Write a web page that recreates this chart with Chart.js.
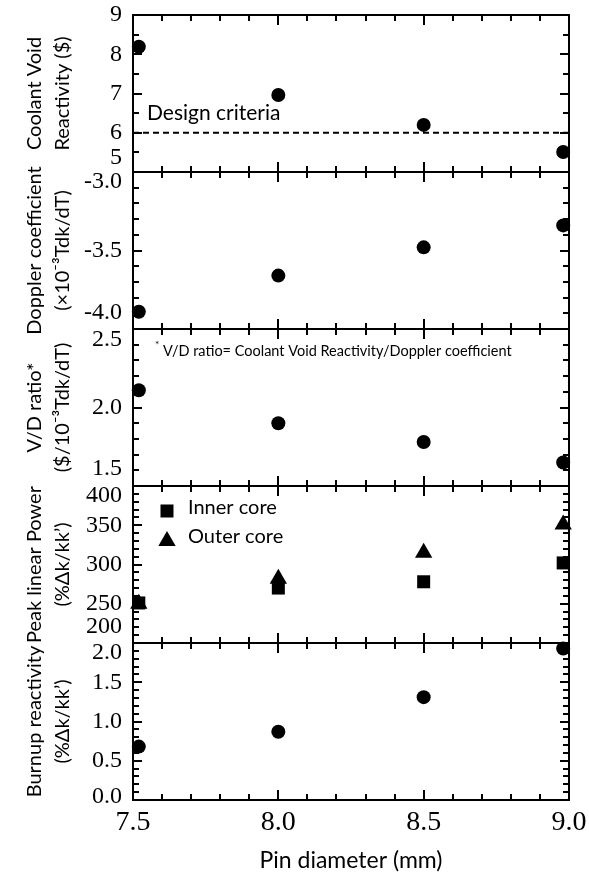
<!DOCTYPE html>
<html>
<head>
<meta charset="utf-8">
<script src="https://cdn.jsdelivr.net/npm/chart.js@4/dist/chart.umd.min.js"></script>
<style>
  html, body { margin: 0; padding: 0; background: #fff; }
  body { width: 589px; height: 875px; overflow: hidden; position: relative; }
  canvas { position: absolute; left: 0; }
</style>
</head>
<body>
<script>
// ---------------- data ----------------
const pinDiameter = [7.52, 8.0, 8.5, 8.98];
const coolantVoid = [8.19, 6.96, 6.20, 5.51];
const designCriteria = 6;
const doppler = [-3.89, -3.66, -3.48, -3.34];
const vdRatio = [2.11, 1.90, 1.78, 1.65];
const peakInner = [251, 270, 278, 302];
const peakOuter = [250, 282, 315, 351];
const burnup = [0.68, 0.87, 1.31, 1.93];

const xTicks = [7.5, 8.0, 8.5, 9.0];
const xTickLabels = ['7.5', '8.0', '8.5', '9.0'];
const coolantTicks = [5, 6, 7, 8, 9];
const coolantTickLabels = ['5', '6', '7', '8', '9'];
const dopplerTicks = [-4.0, -3.5, -3.0];
const dopplerTickLabels = ['-4.0', '-3.5', '-3.0'];
const vdTicks = [1.5, 2.0, 2.5];
const vdTickLabels = ['1.5', '2.0', '2.5'];
const peakTicks = [200, 250, 300, 350, 400];
const peakTickLabels = ['200', '250', '300', '350', '400'];
const burnupTicks = [0, 0.5, 1.0, 1.5, 2.0];
const burnupTickLabels = ['0.0', '0.5', '1.0', '1.5', '2.0'];

const seriesNames = ['Inner core', 'Outer core'];

// ---------------- layout / style ----------------
const W = 589, H = 875;
const PLOT_L = 133, PLOT_R = 569, PANEL_H = 157;
const panelTops = [15, 172, 329, 486, 643];
const M = 30;
const SERIF = '"Liberation Serif", "Times New Roman", serif';
const SANS = 'Lato, "Noto Sans", sans-serif';
const BLACK = '#000';
const X_MINOR = 0.1, X_MAJOR = 0.5;

function pts(ys) { return pinDiameter.map((x, i) => ({ x: x, y: ys[i] })); }

function circleSet(ys) {
  return { data: pts(ys), pointStyle: 'circle', pointRadius: 7, backgroundColor: BLACK,
           borderColor: BLACK, pointBorderWidth: 0, showLine: false, clip: false };
}

const panels = [
  { ticks: coolantTicks, labels: coolantTickLabels, minor: 0.5, major: 1,
    title: ['Coolant Void', 'Reactivity ($)'], shift: [0, 14],
    datasets: [
      circleSet(coolantVoid),
      { type: 'line', data: [{ x: xTicks[0], y: designCriteria }, { x: xTicks[xTicks.length - 1], y: designCriteria }],
        borderColor: BLACK, borderWidth: 2, borderDash: [6, 4], pointRadius: 0, showLine: true, fill: false, clip: false }
    ],
    note: { text: 'Design criteria', font: '21px ' + SANS, dx: 14, value: designCriteria, dy: -20 } },
  { ticks: dopplerTicks, labels: dopplerTickLabels, minor: 0.1, major: 0.5,
    title: ['Doppler coefficient', '(\u00D710\u207B\u00B3Tdk/dT)'], shift: [10, 16],
    datasets: [circleSet(doppler)] },
  { ticks: vdTicks, labels: vdTickLabels, minor: 0.1, major: 0.5,
    title: ['V/D ratio*', '($/10\u207B\u00B3Tdk/dT)'], shift: [11, 17],
    datasets: [circleSet(vdRatio)],
    vdNote: true },
  { ticks: peakTicks, labels: peakTickLabels, minor: 10, major: 50,
    title: ['Peak linear Power', '(%\u0394k/kk\u2019)'], shift: [10, 16],
    datasets: [
      { label: seriesNames[0], data: pts(peakInner), pointStyle: 'rect', pointRadius: 9.2, backgroundColor: BLACK,
        borderColor: BLACK, pointBorderWidth: 0, showLine: false, clip: false },
      { label: seriesNames[1], data: pts(peakOuter), pointStyle: 'triangle', pointRadius: 10, backgroundColor: BLACK,
        borderColor: BLACK, pointBorderWidth: 0, showLine: false, clip: false }
    ],
    legend: true },
  { ticks: burnupTicks, labels: burnupTickLabels, minor: 0.1, major: 0.5,
    title: ['Burnup reactivity', '(%\u0394k/kk\u2019)'], shift: [10, 3],
    datasets: [circleSet(burnup)] }
];

function isMultiple(v, step) {
  const r = v / step;
  return Math.abs(r - Math.round(r)) < 1e-6;
}

function decoPlugin(cfg) {
  return {
    id: 'panelDeco',
    beforeDraw(chart) {
      const ys = chart.scales.y;
      if (!ys._shiftWrapped && typeof ys._computeLabelItems === 'function') {
        const orig = ys._computeLabelItems;
        const topLabel = cfg.labels[cfg.labels.length - 1];
        const botLabel = cfg.labels[0];
        ys._computeLabelItems = function (ca) {
          const items = orig.call(this, ca);
          items.forEach(it => {
            if (!it.options || !it.options.translation) return;
            if (it.label === topLabel) it.options.translation[1] += cfg.shift[0];
            if (it.label === botLabel) it.options.translation[1] -= cfg.shift[1];
          });
          return items;
        };
        ys._shiftWrapped = true;
        ys._labelItems = null;
      }
    },
    afterDraw(chart) {
      const ctx = chart.ctx;
      const a = chart.chartArea;
      const xs = chart.scales.x, ys = chart.scales.y;
      const L = Math.round(a.left), R = Math.round(a.right), T = Math.round(a.top), B = Math.round(a.bottom);
      ctx.save();
      ctx.fillStyle = BLACK;
      // x tick marks, inward at top and bottom
      const x0 = xTicks[0], x1 = xTicks[xTicks.length - 1];
      const nx = Math.round((x1 - x0) / X_MINOR);
      for (let i = 1; i < nx; i++) {
        const v = x0 + i * X_MINOR;
        const px = Math.round(xs.getPixelForValue(v));
        const len = isMultiple(v, X_MAJOR) ? 10 : 6;
        ctx.fillRect(px - 1, T, 2, len);
        ctx.fillRect(px - 1, B - len, 2, len);
      }
      // y tick marks, inward at left and right
      const y0 = cfg.ticks[0], y1 = cfg.ticks[cfg.ticks.length - 1];
      const ny = Math.round((y1 - y0) / cfg.minor);
      for (let i = 1; i < ny; i++) {
        const v = y0 + i * cfg.minor;
        const py = Math.round(ys.getPixelForValue(v));
        const len = isMultiple(v, cfg.major) ? 9 : 6;
        ctx.fillRect(L, py - 1, len, 2);
        ctx.fillRect(R - len, py - 1, len, 2);
      }
      // frame
      ctx.fillRect(L - 1, T - 1, R - L + 2, 2);
      ctx.fillRect(L - 1, B - 1, R - L + 2, 2);
      ctx.fillRect(L - 1, T - 1, 2, B - T + 2);
      ctx.fillRect(R - 1, T - 1, 2, B - T + 2);

      // annotations
      ctx.textBaseline = 'middle';
      ctx.textAlign = 'left';
      if (cfg.note) {
        ctx.font = cfg.note.font;
        ctx.fillText(cfg.note.text, a.left + cfg.note.dx, ys.getPixelForValue(cfg.note.value) + cfg.note.dy);
      }
      if (cfg.vdNote) {
        ctx.font = '10px ' + SANS;
        ctx.fillText('*', a.left + 22, a.top + 16);
        ctx.font = '14.5px ' + SANS;
        ctx.fillText('V/D ratio= Coolant Void Reactivity/Doppler coefficient', a.left + 30, a.top + 22);
      }
      if (cfg.legend) {
        const rows = [25, 55];
        const textRows = [22, 51];
        chart.data.datasets.forEach((ds, i) => {
          const mx = a.left + 34, my = a.top + rows[i];
          const opts = { pointStyle: ds.pointStyle, radius: ds.pointRadius, rotation: 0, borderWidth: 0 };
          ctx.fillStyle = BLACK;
          if (Chart.helpers && Chart.helpers.drawPoint) {
            Chart.helpers.drawPoint(ctx, opts, mx, my);
          }
          ctx.fillStyle = BLACK;
          ctx.font = '20px ' + SANS;
          ctx.textBaseline = 'middle';
          ctx.textAlign = 'left';
          ctx.fillText(ds.label, a.left + 55, a.top + textRows[i]);
        });
      }
      ctx.restore();
    }
  };
}

panels.forEach((cfg, i) => {
  const isLast = i === panels.length - 1;
  const top = panelTops[i] - M;
  const h = isLast ? (H - top) : PANEL_H + 2 * M;
  const canvas = document.createElement('canvas');
  canvas.width = W; canvas.height = h;
  canvas.style.width = W + 'px'; canvas.style.height = h + 'px';
  canvas.style.top = top + 'px';
  document.body.appendChild(canvas);

  new Chart(canvas, {
    type: 'scatter',
    data: { datasets: cfg.datasets },
    options: {
      responsive: false,
      animation: false,
      devicePixelRatio: 1,
      events: [],
      layout: { padding: { left: 0, right: W - PLOT_R, top: M, bottom: isLast ? 0 : M } },
      plugins: { legend: { display: false }, tooltip: { enabled: false } },
      scales: {
        x: {
          type: 'linear', position: 'bottom', display: isLast,
          min: xTicks[0], max: xTicks[xTicks.length - 1],
          grid: { display: false, drawTicks: false }, border: { display: false },
          afterBuildTicks: s => { s.ticks = xTicks.map(v => ({ value: v })); },
          ticks: { callback: (v, idx) => xTickLabels[idx], font: { family: SERIF, size: 28 }, color: BLACK,
                   padding: 6, maxRotation: 0, minRotation: 0, autoSkip: false },
          title: { display: true, text: 'Pin diameter (mm)', font: { family: SANS, size: 23 }, color: BLACK,
                   padding: { top: 0, bottom: 1 } },
          afterFit: s => { if (isLast) s.height = 75; s.paddingLeft = 0; s.paddingRight = 0; }
        },
        y: {
          type: 'linear', position: 'left',
          min: cfg.ticks[0], max: cfg.ticks[cfg.ticks.length - 1],
          grid: { display: false, drawTicks: false }, border: { display: false },
          afterBuildTicks: s => { s.ticks = cfg.ticks.map(v => ({ value: v })); },
          ticks: { callback: (v, idx) => cfg.labels[idx], font: { family: SERIF, size: 24 }, color: BLACK,
                   padding: 11, autoSkip: false },
          title: { display: true, text: cfg.title, font: { family: SANS, size: 20, lineHeight: '28px' }, color: BLACK,
                   padding: { top: 21, bottom: 0 } },
          afterFit: s => { s.width = PLOT_L; s.paddingTop = 0; s.paddingBottom = 0; }
        }
      }
    },
    plugins: [decoPlugin(cfg)]
  });
});
</script>
</body>
</html>
